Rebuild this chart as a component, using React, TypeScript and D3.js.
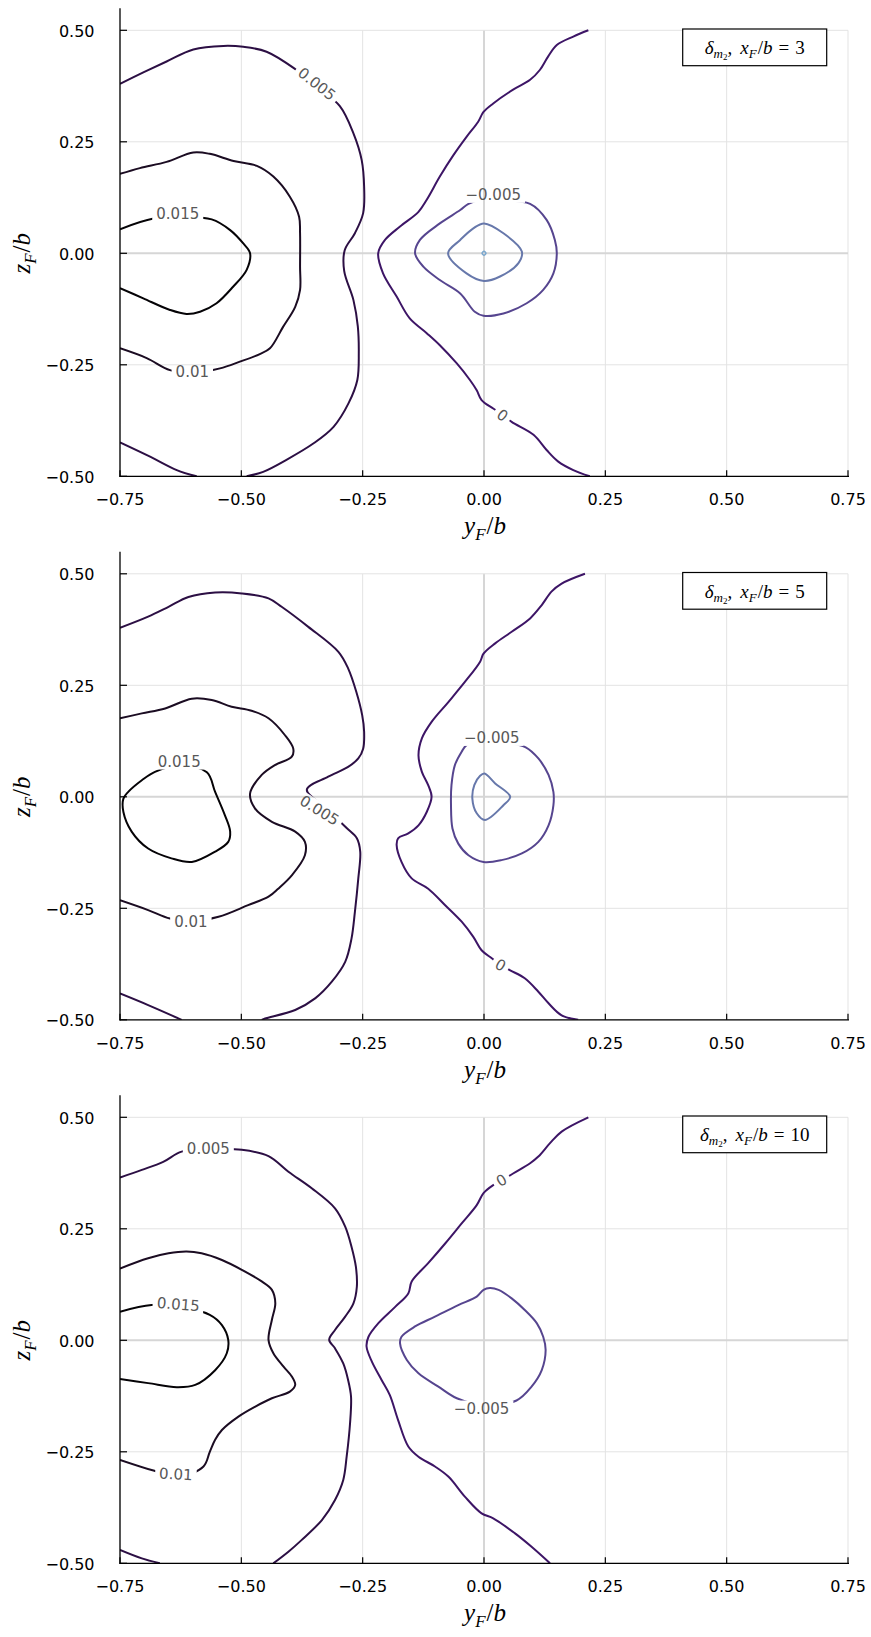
import React from "react";
import * as d3 from "d3";

// ---------- data ----------
const X_TICKS = [-0.75, -0.5, -0.25, 0, 0.25, 0.5, 0.75];
const Z_TICKS = [-0.5, -0.25, 0, 0.25, 0.5];
const XF_VALUES = [3, 5, 10];
const LEVELS = [0.015, 0.01, 0.005, 0, -0.005, -0.01, -0.015];
const LEVEL_COLORS = ["#050306", "#1b0c22", "#2c0f44", "#3d1566", "#56458f", "#6778ab", "#7ba8cf"];

// panel 1 (x_F/b = 3) contour lines [y/b, z/b]
const P1_005a = [[-0.750,0.380],[-0.703,0.405],[-0.654,0.430],[-0.599,0.457],[-0.537,0.465],[-0.496,0.463],[-0.448,0.452],[-0.389,0.413],[-0.342,0.371],[-0.297,0.330],[-0.269,0.269],[-0.252,0.209],[-0.247,0.149],[-0.249,0.090],[-0.266,0.045],[-0.287,0.007],[-0.288,-0.040],[-0.269,-0.105],[-0.260,-0.164],[-0.258,-0.224],[-0.261,-0.284],[-0.279,-0.336],[-0.310,-0.389],[-0.351,-0.426],[-0.407,-0.463],[-0.455,-0.490],[-0.489,-0.500]];
const P1_005b = [[-0.750,-0.424],[-0.688,-0.456],[-0.633,-0.486],[-0.592,-0.500]];
const P1_010 = [[-0.750,0.178],[-0.709,0.191],[-0.654,0.205],[-0.599,0.226],[-0.565,0.223],[-0.516,0.207],[-0.468,0.196],[-0.434,0.172],[-0.400,0.127],[-0.381,0.082],[-0.379,0.045],[-0.379,-0.030],[-0.379,-0.082],[-0.389,-0.120],[-0.414,-0.165],[-0.441,-0.213],[-0.462,-0.226],[-0.503,-0.243],[-0.544,-0.258],[-0.600,-0.268],[-0.647,-0.262],[-0.695,-0.235],[-0.750,-0.213]];
const P1_015 = [[-0.750,0.054],[-0.681,0.078],[-0.622,0.081],[-0.561,0.076],[-0.523,0.052],[-0.496,0.022],[-0.482,0.000],[-0.489,-0.037],[-0.517,-0.075],[-0.551,-0.112],[-0.585,-0.131],[-0.613,-0.136],[-0.647,-0.127],[-0.702,-0.101],[-0.750,-0.078]];
const P1_000 = [[0.215,0.500],[0.184,0.486],[0.150,0.467],[0.132,0.441],[0.115,0.411],[0.095,0.389],[0.060,0.367],[0.019,0.336],[-0.001,0.317],[-0.012,0.295],[-0.036,0.261],[-0.063,0.220],[-0.091,0.172],[-0.118,0.120],[-0.135,0.093],[-0.173,0.060],[-0.204,0.030],[-0.218,0.000],[-0.208,-0.045],[-0.180,-0.097],[-0.153,-0.146],[-0.118,-0.179],[-0.091,-0.206],[-0.056,-0.247],[-0.029,-0.284],[-0.015,-0.307],[-0.005,-0.329],[0.019,-0.348],[0.039,-0.362],[0.057,-0.378],[0.102,-0.407],[0.129,-0.441],[0.153,-0.467],[0.184,-0.486],[0.218,-0.500]];
const P1_m005 = [[-0.032,0.111],[0.000,0.122],[0.031,0.119],[0.095,0.111],[0.129,0.075],[0.146,0.030],[0.150,0.000],[0.143,-0.045],[0.122,-0.082],[0.088,-0.112],[0.040,-0.135],[-0.001,-0.140],[-0.019,-0.131],[-0.049,-0.090],[-0.091,-0.060],[-0.125,-0.030],[-0.142,0.000],[-0.132,0.030],[-0.091,0.067],[-0.049,0.097]];
const P1_m010 = [[0,0.067],[0.040,0.045],[0.078,0.004],[0.071,-0.022],[0.033,-0.052],[0,-0.062],[-0.036,-0.045],[-0.074,0.000],[-0.049,0.030],[-0.022,0.056]];
const P1_m015 = [[0.004,0],[0,0.0045],[-0.004,0],[0,-0.0045]];
const P1_LABELS = [["0.005",-0.344,0.380,38],["0.015",-0.631,0.088,0],["0.01",-0.601,-0.265,0],["0",0.038,-0.363,36],["\u22120.005",0.019,0.131,0]];

// panel 2 (x_F/b = 5)
const P2_005a = [[-0.750,0.379],[-0.692,0.404],[-0.650,0.426],[-0.609,0.448],[-0.554,0.458],[-0.499,0.456],[-0.444,0.445],[-0.417,0.426],[-0.362,0.381],[-0.300,0.325],[-0.280,0.288],[-0.263,0.235],[-0.251,0.183],[-0.247,0.146],[-0.249,0.108],[-0.259,0.086],[-0.280,0.067],[-0.321,0.045],[-0.365,0.016],[-0.324,-0.027],[-0.283,-0.070],[-0.262,-0.093],[-0.255,-0.123],[-0.259,-0.183],[-0.266,-0.258],[-0.273,-0.318],[-0.286,-0.370],[-0.314,-0.415],[-0.348,-0.452],[-0.389,-0.478],[-0.451,-0.497],[-0.458,-0.500]];
const P2_005b = [[-0.750,-0.441],[-0.692,-0.467],[-0.623,-0.500]];
const P2_010 = [[-0.750,0.176],[-0.705,0.187],[-0.657,0.198],[-0.602,0.220],[-0.561,0.217],[-0.520,0.202],[-0.479,0.193],[-0.444,0.176],[-0.410,0.138],[-0.393,0.108],[-0.396,0.090],[-0.431,0.071],[-0.458,0.049],[-0.482,0.007],[-0.472,-0.026],[-0.437,-0.056],[-0.389,-0.078],[-0.369,-0.101],[-0.369,-0.131],[-0.396,-0.176],[-0.424,-0.206],[-0.444,-0.224],[-0.486,-0.243],[-0.547,-0.269],[-0.604,-0.279],[-0.647,-0.273],[-0.692,-0.254],[-0.750,-0.232]];
const P2_015 = [[-0.571,0.055],[-0.554,0.011],[-0.534,-0.041],[-0.523,-0.078],[-0.527,-0.101],[-0.554,-0.123],[-0.602,-0.146],[-0.644,-0.138],[-0.692,-0.116],[-0.726,-0.078],[-0.743,-0.034],[-0.743,-0.004],[-0.733,0.011],[-0.705,0.037],[-0.678,0.056],[-0.626,0.070]];
const P2_000 = [[0.208,0.500],[0.160,0.478],[0.139,0.460],[0.119,0.430],[0.095,0.400],[0.057,0.370],[0.023,0.344],[-0.001,0.321],[-0.008,0.303],[-0.039,0.258],[-0.073,0.213],[-0.108,0.168],[-0.128,0.131],[-0.135,0.093],[-0.128,0.056],[-0.115,0.026],[-0.108,0.000],[-0.118,-0.034],[-0.135,-0.064],[-0.156,-0.082],[-0.177,-0.093],[-0.180,-0.108],[-0.170,-0.146],[-0.149,-0.183],[-0.115,-0.206],[-0.080,-0.243],[-0.046,-0.280],[-0.022,-0.314],[-0.005,-0.344],[0.016,-0.362],[0.033,-0.376],[0.054,-0.389],[0.084,-0.407],[0.112,-0.437],[0.133,-0.463],[0.160,-0.490],[0.194,-0.500]];
const P2_m005 = [[0.086,0.111],[0.112,0.086],[0.133,0.049],[0.143,0.011],[0.143,-0.019],[0.133,-0.064],[0.112,-0.101],[0.078,-0.127],[0.036,-0.142],[-0.001,-0.146],[-0.032,-0.131],[-0.053,-0.105],[-0.065,-0.071],[-0.068,-0.019],[-0.067,0.026],[-0.060,0.071],[-0.046,0.101],[-0.036,0.116],[-0.005,0.124],[0.050,0.121]];
const P2_m010 = [[0.001,0.052],[0.023,0.030],[0.054,0.000],[0.040,-0.019],[0.002,-0.052],[-0.015,-0.037],[-0.024,-0.004],[-0.020,0.026],[-0.008,0.047]];
const P2_LABELS = [["0.015",-0.628,0.079,0],["0.005",-0.339,-0.030,32],["0.01",-0.604,-0.280,0],["\u22120.005",0.016,0.132,0],["0",0.034,-0.377,30]];

// panel 3 (x_F/b = 10)
const P3_005a = [[-0.750,0.365],[-0.705,0.382],[-0.661,0.400],[-0.623,0.423],[-0.568,0.428],[-0.499,0.427],[-0.444,0.413],[-0.403,0.378],[-0.355,0.341],[-0.307,0.296],[-0.286,0.255],[-0.273,0.210],[-0.264,0.165],[-0.262,0.120],[-0.269,0.083],[-0.286,0.053],[-0.307,0.023],[-0.319,0.001],[-0.307,-0.018],[-0.290,-0.052],[-0.280,-0.089],[-0.274,-0.126],[-0.276,-0.186],[-0.283,-0.261],[-0.290,-0.313],[-0.307,-0.358],[-0.334,-0.403],[-0.376,-0.448],[-0.403,-0.474],[-0.434,-0.500]];
const P3_005b = [[-0.750,-0.470],[-0.705,-0.489],[-0.668,-0.500]];
const P3_010 = [[-0.750,0.161],[-0.692,0.184],[-0.650,0.195],[-0.613,0.199],[-0.582,0.195],[-0.540,0.180],[-0.499,0.158],[-0.458,0.132],[-0.437,0.113],[-0.430,0.083],[-0.437,0.046],[-0.444,0.001],[-0.434,-0.029],[-0.413,-0.059],[-0.396,-0.081],[-0.389,-0.100],[-0.400,-0.115],[-0.437,-0.130],[-0.472,-0.149],[-0.506,-0.171],[-0.540,-0.201],[-0.554,-0.223],[-0.565,-0.250],[-0.578,-0.283],[-0.630,-0.306],[-0.681,-0.292],[-0.750,-0.268]];
const P3_015 = [[-0.750,0.064],[-0.685,0.079],[-0.626,0.075],[-0.565,0.057],[-0.540,0.034],[-0.527,0.001],[-0.530,-0.029],[-0.554,-0.067],[-0.595,-0.100],[-0.633,-0.105],[-0.692,-0.096],[-0.750,-0.087]];
const P3_000 = [[0.215,0.500],[0.160,0.468],[0.136,0.442],[0.112,0.412],[0.095,0.397],[0.060,0.374],[0.036,0.358],[0.019,0.348],[-0.001,0.330],[-0.015,0.303],[-0.046,0.262],[-0.080,0.217],[-0.115,0.173],[-0.149,0.132],[-0.156,0.105],[-0.183,0.075],[-0.218,0.038],[-0.238,0.008],[-0.242,-0.014],[-0.231,-0.048],[-0.211,-0.089],[-0.194,-0.123],[-0.177,-0.179],[-0.156,-0.238],[-0.135,-0.261],[-0.101,-0.283],[-0.073,-0.306],[-0.039,-0.351],[-0.005,-0.388],[0.019,-0.399],[0.064,-0.433],[0.098,-0.463],[0.136,-0.500]];
const P3_m005 = [[0.067,-0.135],[0.098,-0.104],[0.119,-0.067],[0.127,-0.022],[0.122,0.008],[0.109,0.038],[0.084,0.068],[0.057,0.094],[0.030,0.113],[0.012,0.117],[-0.001,0.113],[-0.015,0.098],[-0.053,0.079],[-0.101,0.053],[-0.142,0.031],[-0.170,0.008],[-0.173,-0.007],[-0.159,-0.044],[-0.135,-0.074],[-0.094,-0.104],[-0.056,-0.130],[0.002,-0.146]];
const P3_LABELS = [["0.005",-0.568,0.430,0],["0.015",-0.630,0.081,5],["0.01",-0.635,-0.300,3],["0",0.036,0.359,-30],["\u22120.005",-0.005,-0.153,0]];

// [level, closed, points]
const PANEL_LINES: any[] = [
  [[0.005,false,P1_005a],[0.005,false,P1_005b],[0.01,false,P1_010],[0.015,false,P1_015],[0,false,P1_000],[-0.005,true,P1_m005],[-0.01,true,P1_m010],[-0.015,true,P1_m015]],
  [[0.005,false,P2_005a],[0.005,false,P2_005b],[0.01,false,P2_010],[0.015,true,P2_015],[0,false,P2_000],[-0.005,true,P2_m005],[-0.01,true,P2_m010]],
  [[0.005,false,P3_005a],[0.005,false,P3_005b],[0.01,false,P3_010],[0.015,false,P3_015],[0,false,P3_000],[-0.005,true,P3_m005]],
];
const PANEL_LABELS: any[] = [P1_LABELS, P2_LABELS, P3_LABELS];

// ---------- layout ----------
const W = 871, H = 1637;
const LEFT = 120, RIGHT = 848;
const PANEL_STEP = 543.5;
const Z0_FIRST = 253.3;
const HALF = 223;
const TICK_FONT = "DejaVu Sans";
const MATH_FONT = "Liberation Serif";

const fmt = d3.format(".2f");
const colorOf = (lv: number) => LEVEL_COLORS[LEVELS.findIndex((l) => Math.abs(l - lv) < 1e-9)];
const labelWidth = (s: string) => {
  let w = 0;
  for (const ch of s) w += ch === "." ? 4.8 : ch === "\u2212" ? 12.6 : 9.55;
  return w;
};

function Panel({ i }: { i: number }) {
  const z0 = Z0_FIRST + PANEL_STEP * i;
  const x = d3.scaleLinear().domain([-0.75, 0.75]).range([LEFT, RIGHT]);
  const z = d3.scaleLinear().domain([-0.5, 0.5]).range([z0 + HALF, z0 - HALF]);
  const top = z0 - 245;
  const bottom = z(-0.5);
  const openLine = d3.line<number[]>().x((d) => x(d[0])).y((d) => z(d[1])).curve(d3.curveCatmullRom.alpha(0.5));
  const closedLine = d3.line<number[]>().x((d) => x(d[0])).y((d) => z(d[1])).curve(d3.curveCatmullRomClosed.alpha(0.5));
  const lines = PANEL_LINES[i];
  const labels = PANEL_LABELS[i];
  const maskId = `lblmask${i}`;
  const clipId = `clip${i}`;
  const boxTop = z(0.5) - 1.3;
  const boxLeft = 682.7, boxW = 144, boxH = 36.7;
  return (
    <g>
      <defs>
        <clipPath id={clipId}>
          <rect x={LEFT} y={top} width={RIGHT - LEFT} height={bottom - top} />
        </clipPath>
        <mask id={maskId} maskUnits="userSpaceOnUse" x={0} y={0} width={W} height={H}>
          <rect x={0} y={0} width={W} height={H} fill="white" />
          {labels.map((l: any, k: number) => {
            const w = labelWidth(l[0]) + 8;
            return (
              <rect key={k} x={-w / 2} y={-8} width={w} height={16} fill="black"
                transform={`translate(${x(l[1])},${z(l[2])}) rotate(${l[3]})`} />
            );
          })}
        </mask>
      </defs>
      {/* grid */}
      {X_TICKS.map((t) => (
        <line key={"gx" + t} x1={x(t)} x2={x(t)} y1={z(-0.5)} y2={z(0.5)}
          stroke={t === 0 ? "#d6d6d6" : "#e3e3e3"} strokeWidth={t === 0 ? 2 : 1} />
      ))}
      {Z_TICKS.map((t) => (
        <line key={"gz" + t} x1={LEFT} x2={RIGHT} y1={z(t)} y2={z(t)}
          stroke={t === 0 ? "#d6d6d6" : "#e3e3e3"} strokeWidth={t === 0 ? 2 : 1} />
      ))}
      {/* contours */}
      <g clipPath={`url(#${clipId})`} mask={`url(#${maskId})`}>
        {lines.map((ln: any, k: number) => (
          <path key={k} d={(ln[1] ? closedLine : openLine)(ln[2]) || ""} fill="none"
            stroke={colorOf(ln[0])} strokeWidth={ln[0] === -0.015 ? 1.6 : 2} strokeLinejoin="round" />
        ))}
      </g>
      {labels.map((l: any, k: number) => (
        <text key={k} transform={`translate(${x(l[1])},${z(l[2])}) rotate(${l[3]})`} textAnchor="middle"
          dy="0.36em" fontFamily={TICK_FONT} fontSize={15} fill="#585858">{l[0]}</text>
      ))}
      {/* axes */}
      <line x1={LEFT} x2={LEFT} y1={bottom + 0.6} y2={top} stroke="#000" strokeWidth={1.3} />
      <line x1={LEFT - 0.6} x2={RIGHT + 1} y1={bottom} y2={bottom} stroke="#000" strokeWidth={1.3} />
      {X_TICKS.map((t) => (
        <g key={"tx" + t}>
          <line x1={x(t)} x2={x(t)} y1={bottom} y2={bottom - 6} stroke="#000" strokeWidth={1.2} />
          <text x={x(t)} y={bottom + 29} textAnchor="middle" fontFamily={TICK_FONT} fontSize={16}>{fmt(t)}</text>
        </g>
      ))}
      {Z_TICKS.map((t) => (
        <g key={"tz" + t}>
          <line x1={LEFT} x2={LEFT + 7} y1={z(t)} y2={z(t)} stroke="#000" strokeWidth={1.2} />
          <text x={94.5} y={z(t) + 6.5} textAnchor="end" fontFamily={TICK_FONT} fontSize={16}>{fmt(t)}</text>
        </g>
      ))}
      {/* axis labels */}
      <text x={485} y={bottom + 58} textAnchor="middle" fontFamily={MATH_FONT} fontSize={25}>
        <tspan fontStyle="italic">y</tspan>
        <tspan fontStyle="italic" fontSize={17} dy={6}>F</tspan>
        <tspan dy={-6} dx={1}>/</tspan>
        <tspan fontStyle="italic">b</tspan>
      </text>
      <text transform={`translate(29.5,${z0}) rotate(-90)`} textAnchor="middle" fontFamily={MATH_FONT} fontSize={25}>
        <tspan fontStyle="italic">z</tspan>
        <tspan fontStyle="italic" fontSize={17} dy={6}>F</tspan>
        <tspan dy={-6} dx={1}>/</tspan>
        <tspan fontStyle="italic">b</tspan>
      </text>
      {/* legend */}
      <rect x={boxLeft} y={boxTop} width={boxW} height={boxH} fill="#fff" stroke="#000" strokeWidth={1.2} />
      <text x={boxLeft + boxW / 2} y={boxTop + 25} textAnchor="middle" fontFamily={MATH_FONT} fontSize={19}>
        <tspan fontStyle="italic">δ</tspan>
        <tspan fontStyle="italic" fontSize={13} dy={4}>m</tspan>
        <tspan fontSize={9} dy={2}>2</tspan>
        <tspan dy={-6}>,</tspan>
        <tspan fontStyle="italic" dx={8}>x</tspan>
        <tspan fontStyle="italic" fontSize={13} dy={4}>F</tspan>
        <tspan dy={-4} dx={1}>/</tspan>
        <tspan fontStyle="italic">b</tspan>
        <tspan dx={6}>=</tspan>
        <tspan dx={6}>{XF_VALUES[i]}</tspan>
      </text>
    </g>
  );
}

export default function App() {
  return (
    <svg width={W} height={H} viewBox={`0 0 ${W} ${H}`} style={{ position: "absolute", left: 0, top: 0, background: "#fff" }}>
      <rect x={0} y={0} width={W} height={H} fill="#fff" />
      {[0, 1, 2].map((i) => <Panel key={i} i={i} />)}
    </svg>
  );
}
